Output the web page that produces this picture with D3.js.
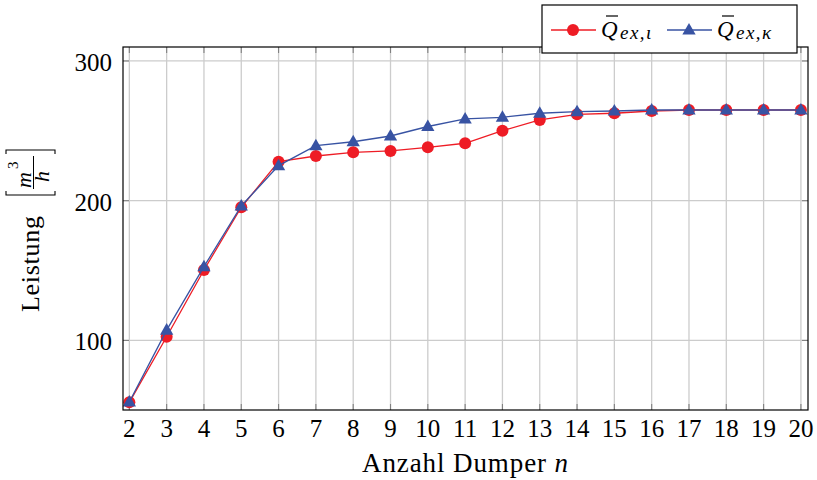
<!DOCTYPE html>
<html>
<head>
<meta charset="utf-8">
<script src="https://cdn.jsdelivr.net/npm/d3@7"></script>
<style>
  body { margin: 0; background: #fff; }
</style>
</head>
<body>
<svg id="chart" width="817" height="480"></svg>
<script>
"use strict";

// Anzahl Dumper n
const dumpers = [2, 3, 4, 5, 6, 7, 8, 9, 10, 11, 12, 13, 14, 15, 16, 17, 18, 19, 20];
// Q_ex,iota (red, circles)
const leistungIota = [55.7, 102.6, 150.4, 195.3, 227.9, 232.0, 234.6, 235.6, 238.2, 241.1,
                      250.1, 257.8, 261.8, 262.6, 264.2, 264.9, 264.9, 264.9, 264.9];
// Q_ex,kappa (blue, triangles)
const leistungKappa = [55.9, 107.4, 152.8, 196.2, 225.1, 239.4, 242.2, 246.3, 253.1, 258.5,
                       259.7, 262.6, 263.7, 264.2, 264.9, 264.9, 264.9, 264.9, 264.9];
const yTicks = [100, 200, 300];

const plotLeft = 123, plotRight = 808, plotTop = 47, plotBottom = 410;
const redCol = "#ee1c25", blueCol = "#3853a3";
const serif = "Liberation Serif";

const svg = d3.select("#chart");
const xScale = d3.scaleLinear().domain([1.83, 20.19]).range([plotLeft, plotRight]);
const yScale = d3.scaleLinear().domain([50.2, 310]).range([plotBottom, plotTop]);

// grid
svg.append("g").selectAll("line").data(dumpers).join("line")
    .attr("x1", d => xScale(d)).attr("x2", d => xScale(d))
    .attr("y1", plotTop).attr("y2", plotBottom)
    .attr("stroke", "#cccccc").attr("stroke-width", 1.3);
svg.append("g").selectAll("line").data(yTicks).join("line")
    .attr("x1", plotLeft).attr("x2", plotRight)
    .attr("y1", d => yScale(d)).attr("y2", d => yScale(d))
    .attr("stroke", "#cccccc").attr("stroke-width", 1.3);

// inside ticks
const tickLen = 6;
const tickG = svg.append("g").attr("stroke", "#808080").attr("stroke-width", 1.1);
dumpers.forEach(d => {
    tickG.append("line").attr("x1", xScale(d)).attr("x2", xScale(d)).attr("y1", plotBottom).attr("y2", plotBottom - tickLen);
    tickG.append("line").attr("x1", xScale(d)).attr("x2", xScale(d)).attr("y1", plotTop).attr("y2", plotTop + tickLen);
});
yTicks.forEach(d => {
    tickG.append("line").attr("x1", plotLeft).attr("x2", plotLeft + tickLen).attr("y1", yScale(d)).attr("y2", yScale(d));
    tickG.append("line").attr("x1", plotRight).attr("x2", plotRight - tickLen).attr("y1", yScale(d)).attr("y2", yScale(d));
});

// tick labels
svg.append("g").selectAll("text").data(dumpers).join("text")
    .attr("x", d => xScale(d)).attr("y", 437)
    .attr("text-anchor", "middle").attr("font-family", serif).attr("font-size", 25)
    .text(d => d);
svg.append("g").selectAll("text").data(yTicks).join("text")
    .attr("x", 112).attr("y", d => yScale(d) + 10)
    .attr("text-anchor", "end").attr("font-family", serif).attr("font-size", 25)
    .text(d => d);

// series
const line = d3.line().x((d, i) => xScale(dumpers[i])).y(d => yScale(d));
function triangle(cx, cy, s) {
    return d3.line()([[cx, cy - s], [cx + s * 0.95, cy + s * 0.65], [cx - s * 0.95, cy + s * 0.65]]) + "Z";
}

svg.append("path").datum(leistungIota)
    .attr("d", line).attr("fill", "none").attr("stroke", redCol).attr("stroke-width", 1.3);
svg.append("g").selectAll("circle").data(leistungIota).join("circle")
    .attr("cx", (d, i) => xScale(dumpers[i])).attr("cy", d => yScale(d))
    .attr("r", 6).attr("fill", redCol);

svg.append("path").datum(leistungKappa)
    .attr("d", line).attr("fill", "none").attr("stroke", blueCol).attr("stroke-width", 1.3);
svg.append("g").selectAll("path").data(leistungKappa).join("path")
    .attr("d", (d, i) => triangle(xScale(dumpers[i]), yScale(d), 7))
    .attr("fill", blueCol);

// frame
svg.append("rect").attr("x", plotLeft).attr("y", plotTop)
    .attr("width", plotRight - plotLeft).attr("height", plotBottom - plotTop)
    .attr("fill", "none").attr("stroke", "#000").attr("stroke-width", 1.2);

// x label
const xl = svg.append("text").attr("x", (plotLeft + plotRight) / 2).attr("y", 472)
    .attr("text-anchor", "middle").attr("font-family", serif).attr("font-size", 27)
    .attr("letter-spacing", 0.9);
xl.append("tspan").attr("font-family", serif).text("Anzahl Dumper ");
xl.append("tspan").attr("font-family", serif).attr("font-style", "italic").text("n");

// y label (local frame: x runs upwards, y = 0 is the baseline of "Leistung")
const yl = svg.append("g").attr("transform", "translate(39,231) rotate(-90)");
yl.append("text").attr("x", -81).attr("y", 0).attr("font-family", serif).attr("font-size", 26)
    .attr("letter-spacing", 0.7).text("Leistung");
const bl = 36, br = 81, bt = -33, bb = 16, arm = 4;
yl.append("path").attr("d", `M${bl + arm},${bt} L${bl},${bt} L${bl},${bb} L${bl + arm},${bb}`)
    .attr("fill", "none").attr("stroke", "#000").attr("stroke-width", 1.1);
yl.append("path").attr("d", `M${br - arm},${bt} L${br},${bt} L${br},${bb} L${br - arm},${bb}`)
    .attr("fill", "none").attr("stroke", "#000").attr("stroke-width", 1.1);
yl.append("line").attr("x1", 42).attr("x2", 75).attr("y1", -5.5).attr("y2", -5.5)
    .attr("stroke", "#000").attr("stroke-width", 1);
yl.append("text").attr("x", 43).attr("y", -8.5).attr("font-family", serif).attr("font-size", 22)
    .attr("font-style", "italic").text("m");
yl.append("text").attr("x", 62).attr("y", -21).attr("font-family", serif).attr("font-size", 15).text("3");
yl.append("text").attr("x", 54.5).attr("y", 10).attr("font-family", serif).attr("font-size", 22)
    .attr("text-anchor", "middle").attr("font-style", "italic").text("h");

// legend
const lg = svg.append("g");
lg.append("rect").attr("x", 542).attr("y", 5).attr("width", 255).attr("height", 48)
    .attr("fill", "#fff").attr("stroke", "#000").attr("stroke-width", 1.2);
const entries = [
    { col: redCol, x0: 551, tx: 601, sub: "ex,\u03B9", mark: "circle" },
    { col: blueCol, x0: 667, tx: 717, sub: "ex,\u03BA", mark: "triangle" }
];
entries.forEach(e => {
    const cy = 30;
    lg.append("line").attr("x1", e.x0).attr("x2", e.x0 + 45).attr("y1", cy).attr("y2", cy)
        .attr("stroke", e.col).attr("stroke-width", 1.3);
    if (e.mark === "circle")
        lg.append("circle").attr("cx", e.x0 + 22).attr("cy", cy).attr("r", 6).attr("fill", e.col);
    else
        lg.append("path").attr("d", triangle(e.x0 + 22, cy, 7)).attr("fill", e.col);
    lg.append("text").attr("x", e.tx).attr("y", 37).attr("font-family", serif).attr("font-size", 23)
        .attr("font-style", "italic").text("Q");
    lg.append("line").attr("x1", e.tx + 5).attr("x2", e.tx + 17).attr("y1", 16).attr("y2", 16)
        .attr("stroke", "#000").attr("stroke-width", 1.2);
    lg.append("text").attr("x", e.tx + 19).attr("y", 39).attr("font-family", serif).attr("font-size", 19)
        .attr("letter-spacing", 1.5).attr("font-style", "italic").text(e.sub);
});
</script>
</body>
</html>
